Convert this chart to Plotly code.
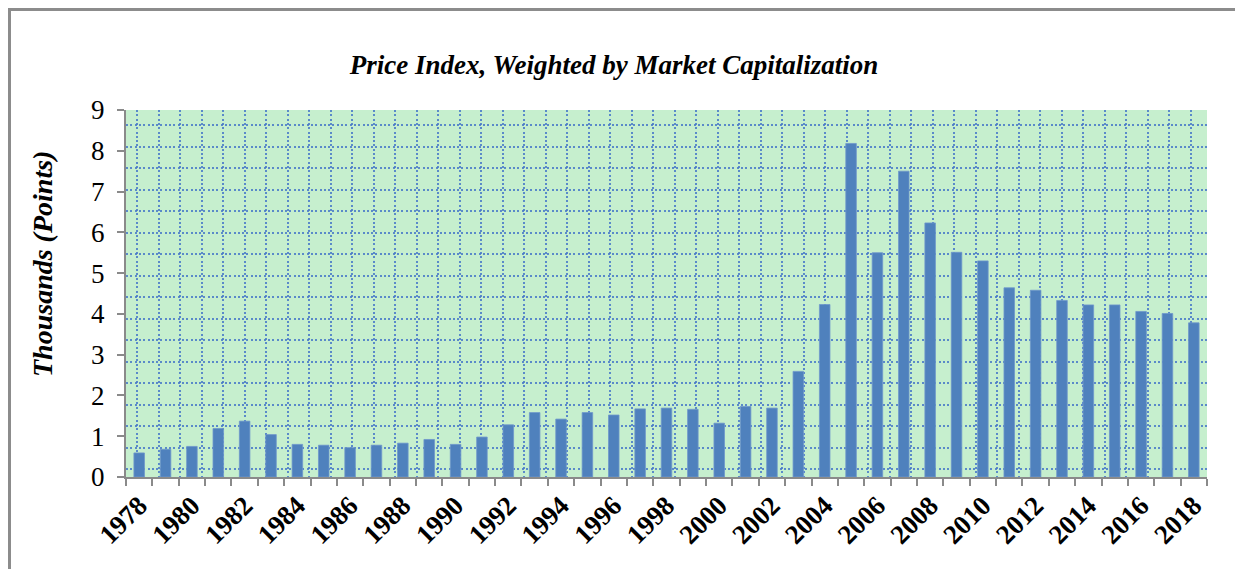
import plotly.graph_objects as go

years = list(range(1978, 2019))
values = [0.59, 0.68, 0.75, 1.19, 1.37, 1.04, 0.80, 0.78, 0.72, 0.78,
          0.83, 0.92, 0.80, 0.98, 1.28, 1.58, 1.42, 1.58, 1.52, 1.67,
          1.69, 1.66, 1.32, 1.73, 1.69, 2.59, 4.23, 8.18, 5.50, 7.50,
          6.23, 5.51, 5.30, 4.64, 4.58, 4.33, 4.22, 4.22, 4.06, 4.01,
          3.78]
label_years = list(range(1978, 2019, 2))
y_ticks = list(range(0, 10))

title_text = "Price Index, Weighted by Market Capitalization"
y_title = "Thousands (Points)"

FONT = "Liberation Serif"
AXIS_GRAY = "#8a8a8a"
DOT = "rgba(70,120,200,0.85)"

# page has an 8px body margin: figure placed at (8, 8)
W, H = 1235, 561
L, T, R, B = 118, 102, 36, 92
PW, PH = W - L - R, H - T - B   # 1081 x 367

fig = go.Figure()
fig.add_trace(go.Bar(x=years, y=values, width=0.4,
                     marker=dict(color="#4f81bd", line=dict(width=0.8, color="#6f97cc")),
                     showlegend=False, hoverinfo="x+y"))
# invisible trace to hold the pattern-grid overlay axes
fig.add_trace(go.Scatter(x=[None], y=[None], xaxis="x2", yaxis="y2",
                         showlegend=False, hoverinfo="skip"))

fig.update_layout(
    width=W, height=H,
    margin=dict(l=L, r=R, t=T, b=B, autoexpand=False),
    paper_bgcolor="white",
    plot_bgcolor="#c6efce",
    font=dict(family=FONT, color="black", size=26),
    title=dict(text=title_text, x=606 / W, xanchor="center",
               y=1 - 57 / H, yanchor="middle",
               font=dict(family=FONT, size=27, weight="bold", style="italic")),
    xaxis=dict(
        range=[1977.5, 2018.5], tickmode="array", tickvals=label_years,
        ticktext=[str(y) for y in label_years],
        tickangle=-45, ticks="", showgrid=False, zeroline=False,
        showline=True, linecolor=AXIS_GRAY, linewidth=2,
        tickfont=dict(family=FONT, size=27, weight="bold"),
        minor=dict(ticks="outside", ticklen=7, tickwidth=2, tickcolor=AXIS_GRAY,
                   tick0=1977.5, dtick=1, showgrid=False),
    ),
    yaxis=dict(
        range=[0, 9], tickmode="array", tickvals=y_ticks,
        ticks="outside", ticklen=7, tickwidth=2, tickcolor=AXIS_GRAY,
        showgrid=False, zeroline=False, showline=True, linecolor=AXIS_GRAY, linewidth=2,
        tickfont=dict(family=FONT, size=27),
        ticklabelstandoff=7,
    ),
    xaxis2=dict(overlaying="x", range=[0, PW], tickmode="linear", tick0=11.3, dtick=21.5,
                showgrid=True, gridcolor=DOT, gridwidth=2.2, griddash="2px,2.3px",
                showticklabels=False, ticks="", zeroline=False, showline=False),
    yaxis2=dict(overlaying="y", range=[0, PH], tickmode="linear", tick0=7.7, dtick=21.52,
                showgrid=True, gridcolor=DOT, gridwidth=2.2, griddash="2px,2.3px",
                showticklabels=False, ticks="", zeroline=False, showline=False),
    annotations=[dict(text=y_title, textangle=-90, xref="paper", yref="paper",
                      x=(34 - L) / PW, y=(T + PH - 256) / PH,
                      xanchor="center", yanchor="middle", showarrow=False,
                      font=dict(family=FONT, size=28, weight="bold", style="italic"))],
    shapes=[dict(type="rect", xref="paper", yref="paper",
                 x0=(1.5 - L) / PW, x1=(W + 20 - L) / PW,
                 y0=-(B + 20) / PH, y1=(PH + T - 1.5) / PH,
                 line=dict(color="#8c8c8c", width=3), fillcolor="rgba(0,0,0,0)",
                 layer="below")],
)

fig.write_html("out.html")
